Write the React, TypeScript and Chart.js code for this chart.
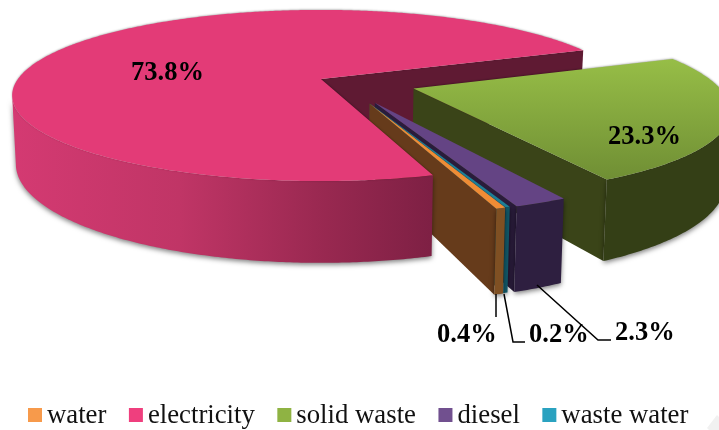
import { useEffect, useRef } from "react";
import { Chart, registerables } from "chart.js";

Chart.register(...registerables);

const categories = ["water", "electricity", "solid waste", "diesel", "waste water"];
const shares = [0.4, 73.8, 23.3, 2.3, 0.2];
const explosion = [27.5, 5, 27, 27.5, 27.5];

const legendColors = ["#F79A4B", "#EF3F7E", "#8FB343", "#71508F", "#2AA2C0"];
const topColors = ["#EF8C35", "#E33B77", "#86A840", "#644484", "#1C7F96"];
const radialColors = ["#663B1B", "#5F1A33", "#3A4418", "#2A1C3B", "#115766"];
const outerColors = ["#7F5023", "#C8386E", "#343F16", "#2E1F40", "#115766"];

// Camera used to lay the pie plane down in perspective
const OX = 321, OY = 79, RX = 303, RY = 82.4, K = 0.193;
const CU = 0.045, CV = 0.021, DEPTH = 66, BOTTOM_SCALE = 0.988;

// Per-slice fine tuning of the exploded wedges
const sliceRadius = [0.97, 1, 0.99, 0.975, 0.97];
const sliceNudge = [0.02, 0, 0, 0.012, 0.016];

const SERIF = '"Liberation Serif", serif';

const valueLabels = [
  { index: 1, x: 131, y: 80 },
  { index: 2, x: 608, y: 144 },
  { index: 0, x: 437, y: 342 },
  { index: 4, x: 529, y: 342 },
  { index: 3, x: 615, y: 340 },
];

const leaders = [
  [[496, 294], [496, 317]],
  [[504, 294], [513, 342], [525, 342]],
  [[537, 285], [598, 340], [611, 340]],
];

type Pt = [number, number];

function project(u: number, v: number, bottom: boolean): Pt {
  const w = 1 - K * v;
  let x = OX + (RX * u) / w;
  let y = OY + (RY * v) / w;
  if (bottom) {
    x = OX + (x - OX) * BOTTOM_SCALE;
    y += DEPTH / w;
  }
  return [x, y];
}

function fillPoly(ctx: CanvasRenderingContext2D, pts: Pt[], fill: string | CanvasGradient) {
  ctx.beginPath();
  pts.forEach((p, i) => (i ? ctx.lineTo(p[0], p[1]) : ctx.moveTo(p[0], p[1])));
  ctx.closePath();
  ctx.fillStyle = fill;
  ctx.fill();
}

const pie3d = {
  id: "pie3d",
  beforeDatasetsDraw(chart: any) {
    const ctx: CanvasRenderingContext2D = chart.ctx;
    const arcs = chart.getDatasetMeta(0).data;

    const geom = arcs.map((arc: any, i: number) => {
      const a0 = arc.startAngle;
      const a1 = arc.endAngle;
      const mid = (a0 + a1) / 2;
      const e = arc.options.offset / 100;
      const r = sliceRadius[i];
      const cu = CU + sliceNudge[i] + e * Math.cos(mid);
      const cv = CV + e * Math.sin(mid);
      const at = (a: number, bottom: boolean) =>
        project(cu + r * Math.cos(a), cv + r * Math.sin(a), bottom);
      const vAt = (a: number) => cv + r * Math.sin(a);
      return { a0, a1, cu, cv, at, vAt };
    });

    // Sampled outer edge; the camera-facing part starts where the plane is widest on screen
    const rim = (g: any, bottom: boolean, frontOnly: boolean) => {
      const out: Pt[] = [];
      const n = Math.max(2, Math.ceil((g.a1 - g.a0) / 0.01));
      for (let i = 0; i <= n; i++) {
        const a = g.a0 + ((g.a1 - g.a0) * i) / n;
        if (!frontOnly || (g.vAt(a) >= K && Math.sin(a) > 0)) out.push(g.at(a, bottom));
      }
      return out;
    };

    const drawRadial = (i: number) => {
      const g = geom[i];
      fillPoly(
        ctx,
        [project(g.cu, g.cv, false), g.at(g.a1, false), g.at(g.a1, true), project(g.cu, g.cv, true)],
        radialColors[i]
      );
    };

    const outerFill = (i: number): string | CanvasGradient => {
      if (i !== 1) return outerColors[i];
      const grad = ctx.createLinearGradient(12, 0, 432, 0);
      grad.addColorStop(0, "#D43A72");
      grad.addColorStop(0.4, "#C03566");
      grad.addColorStop(0.75, "#982850");
      grad.addColorStop(1, "#7E2044");
      return grad;
    };

    const drawOuter = (i: number) => {
      const g = geom[i];
      const top = rim(g, false, true);
      const bot = rim(g, true, true).reverse();
      ctx.save();
      ctx.shadowColor = "rgba(0,0,0,0.5)";
      ctx.shadowBlur = 5;
      ctx.shadowOffsetY = 2;
      fillPoly(ctx, [...top, ...bot], outerFill(i));
      ctx.restore();
    };

    const topFill = (i: number): string | CanvasGradient => {
      if (i !== 2) return topColors[i];
      const grad = ctx.createLinearGradient(0, 58, 0, 181);
      grad.addColorStop(0, "#97BE47");
      grad.addColorStop(1, "#6F8E34");
      return grad;
    };

    const drawTop = (i: number, soft: boolean) => {
      const g = geom[i];
      ctx.save();
      if (soft) {
        ctx.shadowColor = "rgba(0,0,0,0.35)";
        ctx.shadowBlur = 2;
        ctx.shadowOffsetY = -0.5;
      }
      fillPoly(ctx, [project(g.cu, g.cv, false), ...rim(g, false, false)], topFill(i));
      ctx.restore();
    };

    // Furthest faces first, the large front slice last
    drawRadial(1);
    [2, 3, 4, 0].forEach((i) => {
      drawRadial(i);
      drawOuter(i);
      drawTop(i, i === 2);
    });
    drawOuter(1);
    drawTop(1, true);
    return false;
  },
  afterDraw(chart: any) {
    const ctx: CanvasRenderingContext2D = chart.ctx;
    ctx.save();

    // Pale diamond in the lower right corner
    fillPoly(ctx, [[707, 428], [717, 415], [719, 417], [719, 430], [709, 430]], "#F1F1F1");

    ctx.strokeStyle = "#000";
    ctx.lineWidth = 1.5;
    leaders.forEach((line) => {
      ctx.beginPath();
      line.forEach((p, i) => (i ? ctx.lineTo(p[0], p[1]) : ctx.moveTo(p[0], p[1])));
      ctx.stroke();
    });

    ctx.fillStyle = "#000";
    ctx.textBaseline = "alphabetic";
    ctx.textAlign = "left";
    ctx.font = `bold 26.5px ${SERIF}`;
    valueLabels.forEach((l) => ctx.fillText(`${shares[l.index]}%`, l.x, l.y));

    // Key along the bottom edge
    ctx.font = `26.75px ${SERIF}`;
    let x = 28;
    categories.forEach((name, i) => {
      ctx.fillStyle = legendColors[i];
      ctx.fillRect(x, 408, 14, 14);
      ctx.fillStyle = "#111";
      ctx.fillText(name, x + 19, 423);
      x += 19 + ctx.measureText(name).width + 22.5;
    });
    ctx.restore();
  },
};

export default function App() {
  const ref = useRef<HTMLCanvasElement | null>(null);
  useEffect(() => {
    const chart = new Chart(ref.current!, {
      type: "pie",
      data: {
        labels: categories,
        datasets: [{ data: shares, backgroundColor: legendColors, offset: explosion, borderWidth: 0 }],
      },
      options: {
        responsive: false,
        animation: false,
        rotation: 161,
        plugins: { legend: { display: false }, tooltip: { enabled: false } },
      },
      plugins: [pie3d],
    } as any);
    return () => chart.destroy();
  }, []);
  return (
    <canvas
      ref={ref}
      width={719}
      height={430}
      style={{ position: "fixed", left: 0, top: 0, width: 719, height: 430 }}
    />
  );
}
